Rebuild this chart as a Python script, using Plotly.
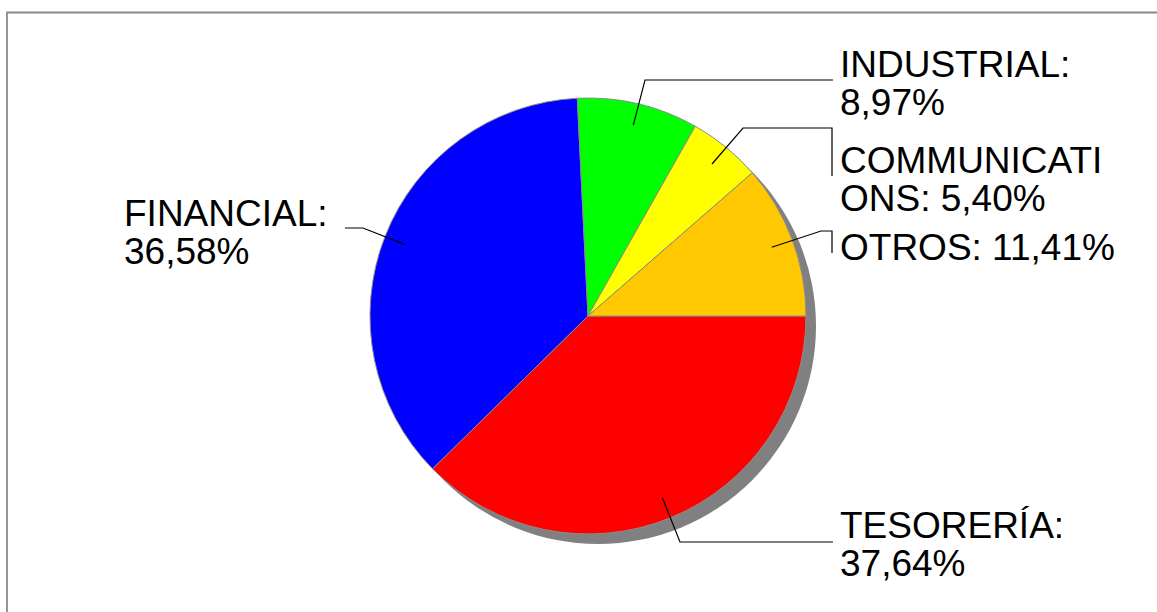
import math
import textwrap
import plotly.graph_objects as go

# ---- data ----
categories = ["OTROS", "COMMUNICATIONS", "INDUSTRIAL", "FINANCIAL", "TESORERÍA"]
values = [11.41, 5.40, 8.97, 36.58, 37.64]

# ---- styles / layout constants ----
colors = ["#FFC800", "#FFFF00", "#00FF00", "#0000FF", "#FF0000"]
W, H = 1157, 612
OFF = 0                              # page body margin removed via post_script
CX, CY, R = 588, 316, 218            # pie centre / radius in screen pixels
SHADOW = 10
FONT = dict(family="Liberation Sans, Arial, sans-serif", size=37, color="#000000")

label_layout = {
    "OTROS":          dict(wrap=14, x=838, base=260, elbow=[(821, 231), (832, 231), (832, 253)]),
    "COMMUNICATIONS": dict(wrap=11, x=838, base=173, elbow=[(743, 128), (832, 128), (832, 176)]),
    "INDUSTRIAL":     dict(wrap=11, x=838, base=77,  elbow=[(645, 80), (833, 80)]),
    "FINANCIAL":      dict(wrap=11, x=122, base=226, elbow=[(363, 228), (345, 228)]),
    "TESORERÍA":      dict(wrap=11, x=838, base=538, elbow=[(680, 542), (833, 542)]),
}
LINE_STEP = 38.5

fig = go.Figure()

def dom(cx, cy):
    px, py = cx - OFF, cy - OFF
    return dict(x=[(px - R) / W, (px + R) / W],
                y=[(H - py - R) / H, (H - py + R) / H])

# shadow
fig.add_trace(go.Pie(values=[1], labels=["shadow"], marker=dict(colors=["#808080"]),
                     textinfo="none", hoverinfo="skip", sort=False, showlegend=False,
                     domain=dom(CX + SHADOW, CY + SHADOW)))
# main pie (drawn clockwise from 3 o'clock in reversed order == counterclockwise in data order)
fig.add_trace(go.Pie(values=values[::-1], labels=categories[::-1],
                     marker=dict(colors=colors[::-1], line=dict(color="#8C8C8C", width=1)),
                     textinfo="none", hoverinfo="label+percent", sort=False,
                     direction="clockwise", rotation=90, showlegend=False,
                     domain=dom(CX, CY)))

# invisible screen-pixel axes for annotations / leader lines
fig.add_trace(go.Scatter(x=[OFF, W + OFF], y=[OFF, H + OFF], mode="markers",
                         marker=dict(opacity=0), hoverinfo="skip", showlegend=False))

total = sum(values)
cum = 0.0
shapes = []
annotations = []
for cat, val in zip(categories, values):
    mid = (cum + val / 2) / total * 2 * math.pi
    cum += val
    ax = CX + 0.9 * R * math.cos(mid)
    ay = CY - 0.9 * R * math.sin(mid)
    lay = label_layout[cat]
    pts = [(ax, ay)] + lay["elbow"]
    path = "M " + " L ".join(f"{px:.1f},{py:.1f}" for px, py in pts)
    shapes.append(dict(type="path", path=path, xref="x", yref="y",
                       line=dict(color="#000000", width=1.2)))
    pct = f"{val:.2f}%".replace(".", ",")
    lines = textwrap.wrap(f"{cat}: {pct}", width=lay["wrap"], break_long_words=True)
    for i, ln in enumerate(lines):
        base = lay["base"] + i * LINE_STEP
        annotations.append(dict(text=ln, x=lay["x"], y=base - 12.8, xref="x", yref="y",
                                xanchor="left", yanchor="middle", showarrow=False,
                                font=FONT))

# frame
shapes.append(dict(type="rect", x0=7, y0=12.5, x1=W + 30, y1=H + 30, xref="x", yref="y",
                   line=dict(color="#8A8A8A", width=1.8), layer="below"))

fig.update_layout(
    width=W, height=H, margin=dict(l=0, r=0, t=0, b=0),
    paper_bgcolor="white", plot_bgcolor="rgba(0,0,0,0)",
    xaxis=dict(range=[OFF, W + OFF], visible=False, fixedrange=True),
    yaxis=dict(range=[H + OFF, OFF], visible=False, fixedrange=True),
    shapes=shapes, annotations=annotations, showlegend=False,
)

fig.write_html("out.html", config={"displayModeBar": False},
               post_script="document.body.style.margin='0';document.body.style.overflow='hidden';")
